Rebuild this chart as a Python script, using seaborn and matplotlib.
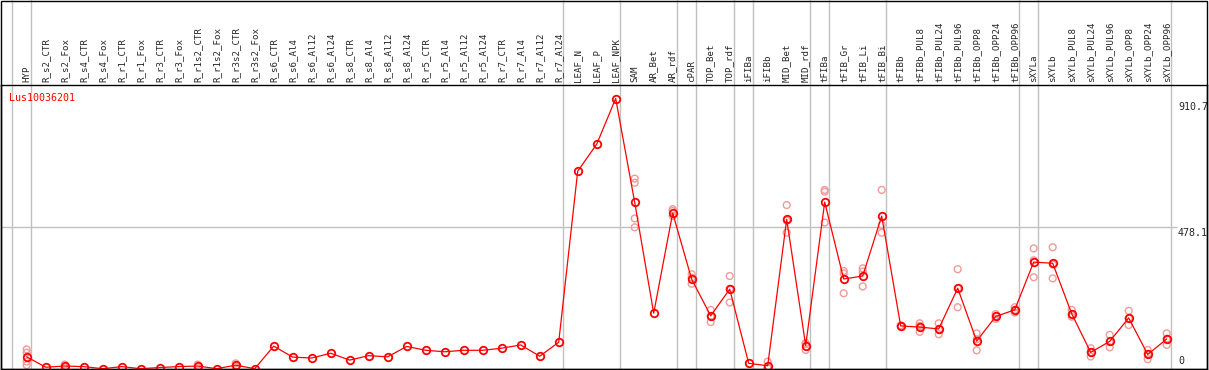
import numpy as np
import pandas as pd
import matplotlib
matplotlib.use("Agg")
import matplotlib.pyplot as plt
import seaborn as sns
from matplotlib.patches import Rectangle

# -------------------------------
# Data
# -------------------------------
gene = "Lus10036201"

samples = [
    "HYP",
    "R_s2_CTR", "R_s2_Fox", "R_s4_CTR", "R_s4_Fox", "R_r1_CTR", "R_r1_Fox",
    "R_r3_CTR", "R_r3_Fox", "R_r1s2_CTR", "R_r1s2_Fox", "R_r3s2_CTR", "R_r3s2_Fox",
    "R_s6_CTR", "R_s6_Al4", "R_s6_Al12", "R_s6_Al24",
    "R_s8_CTR", "R_s8_Al4", "R_s8_Al12", "R_s8_Al24",
    "R_r5_CTR", "R_r5_Al4", "R_r5_Al12", "R_r5_Al24",
    "R_r7_CTR", "R_r7_Al4", "R_r7_Al12", "R_r7_Al24",
    "LEAF_N", "LEAF_P", "LEAF_NPK",
    "SAM", "AR_Bet", "AR_rdf",
    "cPAR",
    "TOP_Bet", "TOP_rdf",
    "iFIBa",
    "iFIBb", "MID_Bet", "MID_rdf",
    "tFIBa",
    "tFIB_Gr", "tFIB_Li", "tFIB_Bi",
    "tFIBb", "tFIBb_PUL8", "tFIBb_PUL24", "tFIBb_PUL96", "tFIBb_OPP8",
    "tFIBb_OPP24", "tFIBb_OPP96",
    "sXYLa",
    "sXYLb", "sXYLb_PUL8", "sXYLb_PUL24", "sXYLb_PUL96", "sXYLb_OPP8",
    "sXYLb_OPP24", "sXYLb_OPP96",
]

mean_expr = [
    41,
    6, 10, 8, 1, 8, 1, 5, 8, 10, 1, 13, 1,
    77, 40, 37, 53, 30, 45, 41, 76, 63, 58, 63, 63, 70, 81, 43, 90,
    666, 757, 910.7,
    561, 188, 525,
    302,
    179, 269,
    19,
    11, 504, 79,
    562,
    303, 313, 515,
    145, 141, 135, 272, 94, 177, 199,
    360,
    356, 186, 56, 93, 172, 49, 101,
]

# last sample of each group -> grey separator drawn right after it
group_ends = ["HYP", "R_r7_Al24", "LEAF_NPK", "AR_rdf", "cPAR", "TOP_rdf",
              "iFIBa", "MID_rdf", "tFIBa", "tFIB_Bi", "tFIBb_OPP96", "sXYLa",
              "sXYLb_OPP96"]

# individual replicates (light circles)
rep_sample = (["HYP"] * 4 + ["R_s2_Fox"] * 2 + ["R_r1s2_CTR"] * 2 + ["R_r3s2_CTR"] * 2
              + ["SAM"] * 4 + ["AR_rdf"] * 3 + ["cPAR"] * 3 + ["TOP_Bet"] * 3
              + ["TOP_rdf"] * 3 + ["iFIBb"] * 3 + ["MID_Bet"] * 3 + ["MID_rdf"] * 3
              + ["tFIBa"] * 3 + ["tFIB_Gr"] * 3 + ["tFIB_Li"] * 3 + ["tFIB_Bi"] * 3
              + ["tFIBb"] * 2 + ["tFIBb_PUL8"] * 3 + ["tFIBb_PUL24"] * 3
              + ["tFIBb_PUL96"] * 3 + ["tFIBb_OPP8"] * 3 + ["tFIBb_OPP24"] * 3
              + ["tFIBb_OPP96"] * 3 + ["sXYLa"] * 3 + ["sXYLb"] * 3
              + ["sXYLb_PUL8"] * 3 + ["sXYLb_PUL24"] * 3 + ["sXYLb_PUL96"] * 3
              + ["sXYLb_OPP8"] * 3 + ["sXYLb_OPP24"] * 3 + ["sXYLb_OPP96"] * 3)
rep_expr = ([66, 55, 25, 13] + [15, 5] + [15, 5] + [19, 8]
            + [641, 627, 507, 477] + [538, 532, 515] + [319, 307, 287] + [199, 158, 178]
            + [313, 224, 270] + [25, 3, 5] + [552, 459, 500] + [64, 87, 85]
            + [603, 597, 493] + [330, 322, 255] + [339, 328, 278] + [603, 485, 459]
            + [147, 143] + [154, 125, 145] + [154, 117, 133]
            + [336, 208, 272] + [120, 63, 100] + [185, 169, 178]
            + [208, 190, 199] + [406, 309, 366] + [410, 305, 352]
            + [199, 176, 184] + [70, 42, 56] + [115, 73, 91]
            + [196, 148, 171] + [64, 33, 51] + [120, 81, 102])

y_ticks = [0, 478.1, 910.7]

# -------------------------------
# Build tables
# -------------------------------
pos = {s: i for i, s in enumerate(samples)}
df_mean = pd.DataFrame({"x": np.arange(len(samples)), "expr": mean_expr})
df_rep = pd.DataFrame({"x": [pos[s] for s in rep_sample], "expr": rep_expr})

# -------------------------------
# Figure
# -------------------------------
sns.set_style("white")
plt.rcParams["font.family"] = ["DejaVu Sans Mono", "DejaVu Sans"]

W, H = 1209, 370
fig = plt.figure(figsize=(W / 100, H / 100), dpi=100)
ax = fig.add_axes([1 / W, 1 / H, 1206 / W, 284 / H])

ymax = max(mean_expr) * 1.05
step = 19.0
x0 = -(26.7 - 1) / step
x1 = (1207 - 26.7) / step
ax.set_xlim(x0, x1)
ax.set_ylim(0, ymax)

# group separators (run up through the label area)
top_extra = 1 + 85 / 284
ax.axvline(-0.79, ymin=0, ymax=top_extra, color="#c0c0c0", lw=1, clip_on=False, zorder=0)
for s in group_ends:
    ax.axvline(pos[s] + 0.21, ymin=0, ymax=top_extra, color="#c0c0c0", lw=1,
               clip_on=False, zorder=0)
ax.hlines(y_ticks[1], x0, (1177 - 26.7) / step, color="#c0c0c0", lw=1, zorder=0)

sns.scatterplot(data=df_rep, x="x", y="expr", ax=ax, marker="o", s=24,
                facecolors="none", edgecolor="#f09a9a", linewidth=1.0, zorder=2)
sns.lineplot(data=df_mean, x="x", y="expr", ax=ax, color="red", lw=0.9,
             marker="o", markersize=5.4, markerfacecolor="none",
             markeredgecolor="red", markeredgewidth=1.3, zorder=3)

# sample labels on top
ax.xaxis.tick_top()
ax.set_xticks(np.arange(len(samples)))
ax.set_xticklabels(samples, rotation=90, fontsize=6.6)
ax.tick_params(axis="x", length=0, pad=2.2)
ax.set_yticks([])
ax.set_xlabel("")
ax.set_ylabel("")

for sp in ax.spines.values():
    sp.set_color("black")
    sp.set_linewidth(1)

# value labels on the right
tr = ax.get_yaxis_transform()
xl = (1178 - 1) / 1206
ax.annotate(f"{y_ticks[2]}", xy=(xl, y_ticks[2]), xycoords=tr, xytext=(0, -3),
            textcoords="offset pixels", va="top", ha="left", fontsize=7.2)
ax.annotate(f"{y_ticks[1]}", xy=(xl, y_ticks[1]), xycoords=tr, xytext=(0, -1),
            textcoords="offset pixels", va="top", ha="left", fontsize=7.2)
ax.annotate(f"{y_ticks[0]}", xy=(xl, y_ticks[0]), xycoords=tr, xytext=(0, 3),
            textcoords="offset pixels", va="bottom", ha="left", fontsize=7.2)

ax.text(8 / 1206, 1 - 8 / 284, gene, transform=ax.transAxes, color="red",
        fontsize=7.2, va="top", ha="left")

# outer frame around labels + plot
fig.add_artist(Rectangle((1 / W, 1 / H), 1206 / W, 369 / H - 0.5 / H,
                         transform=fig.transFigure, fill=False,
                         edgecolor="black", lw=1))

fig.savefig("out.png", dpi=100)
